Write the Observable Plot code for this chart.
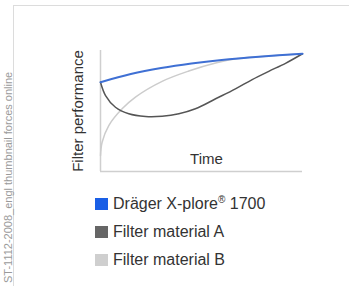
<!DOCTYPE html>
<html>
<head>
<meta charset="utf-8">
<script src="https://cdn.jsdelivr.net/npm/d3@7"></script>
<script src="https://cdn.jsdelivr.net/npm/@observablehq/plot@0.6"></script>
<style>
  html, body { margin: 0; padding: 0; background: #fff; }
  #wrap { position: relative; width: 349px; height: 286px; overflow: hidden; font-family: "Liberation Sans", Arial, sans-serif; }
  #frame { position: absolute; left: 13px; top: 5px; right: -5px; bottom: -5px; border-left: 1.5px solid #dcdcdc; border-top: 1.5px solid #dcdcdc; }
  #chart { position: absolute; left: 0; top: 0; }
  #watermark { position: absolute; left: 3px; top: 283px; transform-origin: 0 0; transform: rotate(-90deg); white-space: nowrap; font-size: 11px; color: #9a9a9a; line-height: 1; }
  .row { position: absolute; left: 95px; display: flex; align-items: center; height: 14px; }
  .sw { width: 13px; height: 12px; margin-right: 5px; }
  .lbl { font-size: 16px; color: #333; line-height: 14px; white-space: nowrap; }
  .lbl sup { font-size: 10px; vertical-align: 6px; line-height: 0; }
</style>
</head>
<body>
<div id="wrap">
  <div id="frame"></div>
  <div id="watermark"></div>
  <div id="chart"></div>
  <div id="legend"></div>
</div>
<script>
// Series (time 0..100, performance 0..100)
const xDrager = [0, 15, 30, 45, 60, 80, 100];
const yDrager = [73.8, 80.5, 85.5, 89.3, 92.2, 95, 97.3];
const xMatA = [0, 2.5, 7.4, 14, 22.3, 30.5, 38.8, 47, 57, 66.8, 75.1, 83.3, 91.6, 100];
const yMatA = [73.8, 62.8, 53.1, 47.7, 45.5, 45.7, 47.7, 51.8, 60.1, 68.3, 76.0, 82.8, 89.4, 97.3];
const xMatB = [0, 0.8, 4.1, 10.7, 17.3, 30.5, 43.7, 57, 68, 80, 100];
const yMatB = [13.2, 24.2, 38, 51.8, 61.5, 74.5, 83, 89.6, 93.3, 95, 97.3];

const seriesNames = ["Dräger X-plore® 1700", "Filter material A", "Filter material B"];
const lineColors = ["#3f70d4", "#555555", "#cccccc"];
const swatchColors = ["#1a5fe6", "#666666", "#cfcfcf"];
const yLabel = "Filter performance";
const xLabel = "Time";
const watermarkText = "ST-1112-2008_engl thumbnail forces online";

const toRows = (xs, ys) => xs.map((x, i) => ({x, y: ys[i]}));
const dataDrager = toRows(xDrager, yDrager);
const dataA = toRows(xMatA, yMatA);
const dataB = toRows(xMatB, yMatB);

const chart = Plot.plot({
  width: 349,
  height: 180,
  marginLeft: 100,
  marginRight: 47,
  marginTop: 50,
  marginBottom: 9,
  style: {background: "transparent", fontFamily: "'Liberation Sans', Arial, sans-serif"},
  x: {domain: [0, 100], axis: null},
  y: {domain: [0, 100], axis: null},
  marks: [
    Plot.ruleY([0], {stroke: "#cfcfcf", strokeWidth: 1.5}),
    Plot.ruleX([0], {stroke: "#cfcfcf", strokeWidth: 1.5}),
    Plot.line(dataB, {x: "x", y: "y", curve: "catmull-rom", stroke: lineColors[2], strokeWidth: 1.5}),
    Plot.line(dataA, {x: "x", y: "y", curve: "catmull-rom", stroke: lineColors[1], strokeWidth: 1.5}),
    Plot.line(dataDrager, {x: "x", y: "y", curve: "catmull-rom", stroke: lineColors[0], strokeWidth: 2}),
    Plot.text([yLabel], {text: d => d, frameAnchor: "left", rotate: -90, dx: -18, lineAnchor: "bottom", textAnchor: "middle", fontSize: 15, fill: "#333"}),
    Plot.text([xLabel], {text: d => d, frameAnchor: "bottom", dx: 5, dy: -8, lineAnchor: "bottom", textAnchor: "middle", fontSize: 15, fill: "#333"})
  ]
});
document.getElementById("chart").appendChild(chart);

document.getElementById("watermark").textContent = watermarkText;

const legend = document.getElementById("legend");
const rowTops = [197, 225, 253];
seriesNames.forEach((name, i) => {
  const row = document.createElement("div");
  row.className = "row";
  row.style.top = rowTops[i] + "px";
  const sw = document.createElement("div");
  sw.className = "sw";
  sw.style.background = swatchColors[i];
  const lbl = document.createElement("div");
  lbl.className = "lbl";
  if (name.includes("®")) {
    const [a, b] = name.split("®");
    lbl.append(a);
    const sup = document.createElement("sup");
    sup.textContent = "®";
    lbl.append(sup);
    lbl.append(b);
  } else {
    lbl.textContent = name;
  }
  row.append(sw, lbl);
  legend.appendChild(row);
});
</script>
</body>
</html>
